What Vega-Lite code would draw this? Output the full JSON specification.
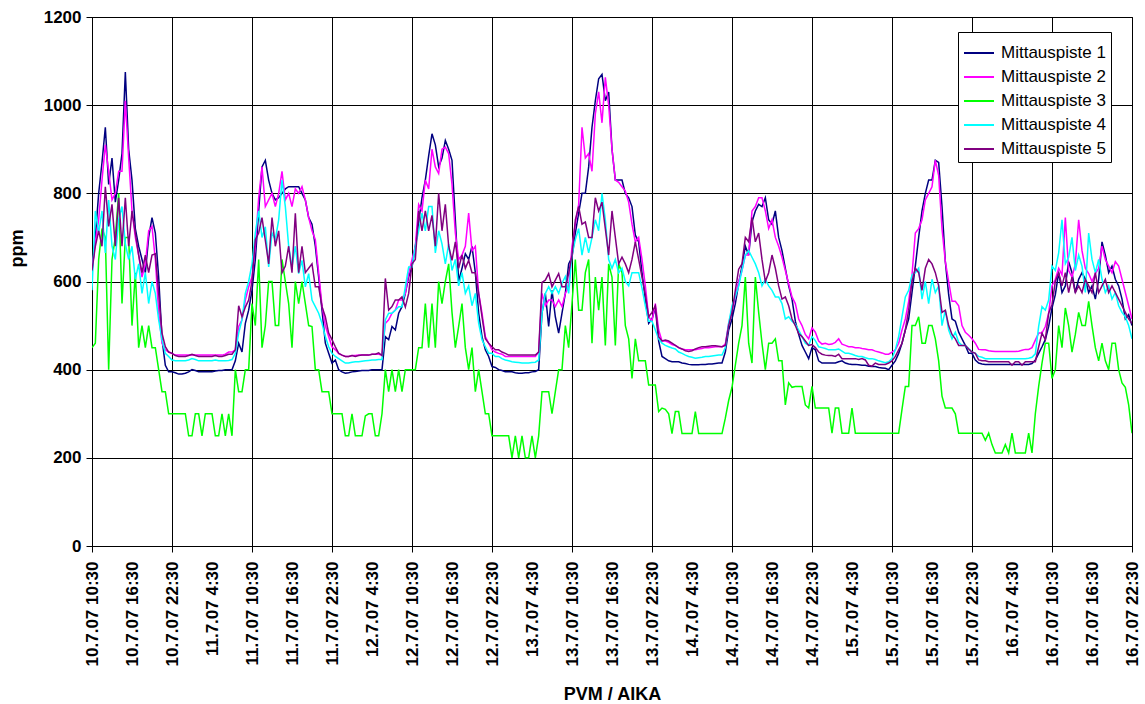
{
  "$schema": "https://vega.github.io/schema/vega-lite/v6.json",
  "width": 1040,
  "height": 529,
  "autosize": {"type": "none"},
  "padding": {"left": 92, "top": 17, "right": 13, "bottom": 158},
  "background": "white",
  "config": {"font": "Liberation Sans", "view": {"stroke": "#000", "strokeWidth": 1}},
  "data": {"values": [
    {"h":0,"p1":620,"p2":630,"p3":450,"p4":580,"p5":625},
    {"h":0.5,"p1":700,"p2":690,"p3":460,"p4":760,"p5":680},
    {"h":1,"p1":800,"p2":740,"p3":650,"p4":710,"p5":715},
    {"h":1.5,"p1":870,"p2":830,"p3":720,"p4":760,"p5":680},
    {"h":2,"p1":950,"p2":910,"p3":700,"p4":665,"p5":815},
    {"h":2.5,"p1":820,"p2":850,"p3":400,"p4":785,"p5":725},
    {"h":3,"p1":880,"p2":785,"p3":650,"p4":680,"p5":775},
    {"h":3.5,"p1":780,"p2":800,"p3":700,"p4":650,"p5":680},
    {"h":4,"p1":830,"p2":850,"p3":800,"p4":740,"p5":790},
    {"h":4.5,"p1":890,"p2":850,"p3":550,"p4":770,"p5":680},
    {"h":5,"p1":1075,"p2":1010,"p3":700,"p4":685,"p5":790},
    {"h":5.5,"p1":900,"p2":880,"p3":700,"p4":650,"p5":680},
    {"h":6,"p1":830,"p2":760,"p3":500,"p4":680,"p5":760},
    {"h":6.5,"p1":720,"p2":700,"p3":620,"p4":605,"p5":710},
    {"h":7,"p1":680,"p2":660,"p3":450,"p4":640,"p5":660},
    {"h":7.5,"p1":650,"p2":610,"p3":500,"p4":573,"p5":620},
    {"h":8,"p1":620,"p2":640,"p3":450,"p4":620,"p5":660},
    {"h":8.5,"p1":700,"p2":715,"p3":500,"p4":550,"p5":620},
    {"h":9,"p1":745,"p2":725,"p3":450,"p4":600,"p5":660},
    {"h":9.5,"p1":710,"p2":650,"p3":450,"p4":573,"p5":663},
    {"h":10,"p1":610,"p2":530,"p3":400,"p4":513,"p5":573},
    {"h":10.5,"p1":470,"p2":460,"p3":350,"p4":468,"p5":483},
    {"h":11,"p1":410,"p2":445,"p3":350,"p4":437,"p5":452},
    {"h":11.5,"p1":395,"p2":440,"p3":300,"p4":430,"p5":440},
    {"h":12,"p1":395,"p2":437,"p3":300,"p4":422,"p5":437},
    {"h":12.5,"p1":393,"p2":433,"p3":300,"p4":420,"p5":432},
    {"h":13,"p1":390,"p2":433,"p3":300,"p4":420,"p5":430},
    {"h":13.5,"p1":390,"p2":433,"p3":300,"p4":420,"p5":430},
    {"h":14,"p1":392,"p2":433,"p3":300,"p4":420,"p5":430},
    {"h":14.5,"p1":395,"p2":433,"p3":250,"p4":422,"p5":432},
    {"h":15,"p1":400,"p2":433,"p3":250,"p4":425,"p5":435},
    {"h":15.5,"p1":398,"p2":433,"p3":300,"p4":423,"p5":432},
    {"h":16,"p1":395,"p2":433,"p3":300,"p4":420,"p5":430},
    {"h":16.5,"p1":395,"p2":433,"p3":250,"p4":420,"p5":430},
    {"h":17,"p1":395,"p2":433,"p3":300,"p4":420,"p5":430},
    {"h":17.5,"p1":395,"p2":433,"p3":300,"p4":420,"p5":430},
    {"h":18,"p1":395,"p2":433,"p3":300,"p4":420,"p5":430},
    {"h":18.5,"p1":397,"p2":433,"p3":250,"p4":422,"p5":432},
    {"h":19,"p1":398,"p2":433,"p3":250,"p4":420,"p5":430},
    {"h":19.5,"p1":398,"p2":433,"p3":300,"p4":420,"p5":430},
    {"h":20,"p1":400,"p2":435,"p3":250,"p4":420,"p5":432},
    {"h":20.5,"p1":400,"p2":440,"p3":300,"p4":421,"p5":435},
    {"h":21,"p1":400,"p2":440,"p3":250,"p4":423,"p5":435},
    {"h":21.5,"p1":420,"p2":445,"p3":400,"p4":437,"p5":445},
    {"h":22,"p1":460,"p2":498,"p3":350,"p4":483,"p5":545},
    {"h":22.5,"p1":440,"p2":513,"p3":350,"p4":513,"p5":520},
    {"h":23,"p1":505,"p2":558,"p3":400,"p4":573,"p5":542},
    {"h":23.5,"p1":535,"p2":588,"p3":400,"p4":600,"p5":558},
    {"h":24,"p1":580,"p2":610,"p3":550,"p4":640,"p5":600},
    {"h":24.5,"p1":650,"p2":680,"p3":500,"p4":710,"p5":695},
    {"h":25,"p1":760,"p2":790,"p3":650,"p4":760,"p5":710},
    {"h":25.5,"p1":860,"p2":860,"p3":450,"p4":700,"p5":745},
    {"h":26,"p1":875,"p2":770,"p3":500,"p4":724,"p5":693},
    {"h":26.5,"p1":830,"p2":785,"p3":600,"p4":633,"p5":640},
    {"h":27,"p1":800,"p2":800,"p3":600,"p4":710,"p5":745},
    {"h":27.5,"p1":785,"p2":770,"p3":500,"p4":695,"p5":680},
    {"h":28,"p1":790,"p2":800,"p3":500,"p4":740,"p5":715},
    {"h":28.5,"p1":800,"p2":850,"p3":650,"p4":830,"p5":620},
    {"h":29,"p1":810,"p2":785,"p3":600,"p4":770,"p5":635},
    {"h":29.5,"p1":815,"p2":800,"p3":550,"p4":680,"p5":680},
    {"h":30,"p1":815,"p2":770,"p3":450,"p4":633,"p5":620},
    {"h":30.5,"p1":815,"p2":810,"p3":600,"p4":680,"p5":755},
    {"h":31,"p1":815,"p2":800,"p3":550,"p4":618,"p5":620},
    {"h":31.5,"p1":800,"p2":815,"p3":600,"p4":648,"p5":680},
    {"h":32,"p1":785,"p2":785,"p3":550,"p4":588,"p5":620},
    {"h":32.5,"p1":745,"p2":745,"p3":500,"p4":618,"p5":630},
    {"h":33,"p1":730,"p2":715,"p3":498,"p4":558,"p5":640},
    {"h":33.5,"p1":680,"p2":695,"p3":400,"p4":543,"p5":588},
    {"h":34,"p1":610,"p2":620,"p3":400,"p4":528,"p5":588},
    {"h":34.5,"p1":535,"p2":545,"p3":350,"p4":505,"p5":543},
    {"h":35,"p1":460,"p2":500,"p3":350,"p4":475,"p5":520},
    {"h":35.5,"p1":437,"p2":475,"p3":350,"p4":452,"p5":483},
    {"h":36,"p1":415,"p2":452,"p3":300,"p4":437,"p5":468},
    {"h":36.5,"p1":422,"p2":445,"p3":300,"p4":430,"p5":452},
    {"h":37,"p1":400,"p2":437,"p3":300,"p4":425,"p5":437},
    {"h":37.5,"p1":395,"p2":433,"p3":300,"p4":420,"p5":433},
    {"h":38,"p1":392,"p2":430,"p3":250,"p4":415,"p5":430},
    {"h":38.5,"p1":393,"p2":430,"p3":250,"p4":415,"p5":430},
    {"h":39,"p1":395,"p2":432,"p3":300,"p4":417,"p5":432},
    {"h":39.5,"p1":396,"p2":432,"p3":250,"p4":418,"p5":430},
    {"h":40,"p1":397,"p2":433,"p3":250,"p4":418,"p5":432},
    {"h":40.5,"p1":398,"p2":433,"p3":250,"p4":419,"p5":433},
    {"h":41,"p1":398,"p2":433,"p3":295,"p4":420,"p5":433},
    {"h":41.5,"p1":398,"p2":433,"p3":300,"p4":421,"p5":433},
    {"h":42,"p1":400,"p2":435,"p3":300,"p4":422,"p5":435},
    {"h":42.5,"p1":400,"p2":435,"p3":250,"p4":422,"p5":435},
    {"h":43,"p1":400,"p2":435,"p3":250,"p4":423,"p5":438},
    {"h":43.5,"p1":400,"p2":433,"p3":300,"p4":423,"p5":432},
    {"h":44,"p1":475,"p2":505,"p3":400,"p4":513,"p5":607},
    {"h":44.5,"p1":468,"p2":513,"p3":350,"p4":528,"p5":535},
    {"h":45,"p1":498,"p2":528,"p3":400,"p4":528,"p5":543},
    {"h":45.5,"p1":490,"p2":535,"p3":350,"p4":535,"p5":558},
    {"h":46,"p1":528,"p2":558,"p3":400,"p4":543,"p5":558},
    {"h":46.5,"p1":543,"p2":558,"p3":350,"p4":543,"p5":565},
    {"h":47,"p1":573,"p2":573,"p3":400,"p4":588,"p5":542},
    {"h":47.5,"p1":611,"p2":618,"p3":400,"p4":633,"p5":573},
    {"h":48,"p1":633,"p2":650,"p3":400,"p4":633,"p5":640},
    {"h":48.5,"p1":680,"p2":680,"p3":400,"p4":680,"p5":650},
    {"h":49,"p1":735,"p2":775,"p3":450,"p4":715,"p5":760},
    {"h":49.5,"p1":790,"p2":760,"p3":450,"p4":755,"p5":715},
    {"h":50,"p1":830,"p2":830,"p3":550,"p4":715,"p5":760},
    {"h":50.5,"p1":885,"p2":810,"p3":450,"p4":770,"p5":715},
    {"h":51,"p1":935,"p2":900,"p3":550,"p4":770,"p5":750},
    {"h":51.5,"p1":910,"p2":860,"p3":450,"p4":665,"p5":680},
    {"h":52,"p1":860,"p2":845,"p3":600,"p4":715,"p5":800},
    {"h":52.5,"p1":880,"p2":900,"p3":550,"p4":685,"p5":715},
    {"h":53,"p1":920,"p2":905,"p3":600,"p4":640,"p5":775},
    {"h":53.5,"p1":900,"p2":890,"p3":640,"p4":685,"p5":680},
    {"h":54,"p1":875,"p2":820,"p3":530,"p4":625,"p5":648},
    {"h":54.5,"p1":740,"p2":710,"p3":450,"p4":650,"p5":690},
    {"h":55,"p1":600,"p2":650,"p3":498,"p4":590,"p5":630},
    {"h":55.5,"p1":630,"p2":660,"p3":550,"p4":620,"p5":660},
    {"h":56,"p1":663,"p2":680,"p3":450,"p4":573,"p5":630},
    {"h":56.5,"p1":650,"p2":755,"p3":400,"p4":590,"p5":648},
    {"h":57,"p1":680,"p2":670,"p3":450,"p4":545,"p5":620},
    {"h":57.5,"p1":620,"p2":680,"p3":350,"p4":573,"p5":620},
    {"h":58,"p1":528,"p2":573,"p3":400,"p4":505,"p5":573},
    {"h":58.5,"p1":475,"p2":528,"p3":350,"p4":468,"p5":520},
    {"h":59,"p1":445,"p2":475,"p3":300,"p4":452,"p5":470},
    {"h":59.5,"p1":430,"p2":460,"p3":300,"p4":437,"p5":460},
    {"h":60,"p1":407,"p2":445,"p3":250,"p4":437,"p5":452},
    {"h":60.5,"p1":405,"p2":440,"p3":250,"p4":430,"p5":445},
    {"h":61,"p1":400,"p2":437,"p3":250,"p4":430,"p5":445},
    {"h":61.5,"p1":398,"p2":435,"p3":250,"p4":425,"p5":440},
    {"h":62,"p1":395,"p2":430,"p3":250,"p4":422,"p5":437},
    {"h":62.5,"p1":395,"p2":430,"p3":250,"p4":420,"p5":433},
    {"h":63,"p1":395,"p2":430,"p3":200,"p4":418,"p5":433},
    {"h":63.5,"p1":393,"p2":430,"p3":250,"p4":417,"p5":433},
    {"h":64,"p1":392,"p2":430,"p3":200,"p4":416,"p5":433},
    {"h":64.5,"p1":392,"p2":430,"p3":250,"p4":415,"p5":433},
    {"h":65,"p1":393,"p2":430,"p3":200,"p4":415,"p5":433},
    {"h":65.5,"p1":393,"p2":430,"p3":200,"p4":415,"p5":433},
    {"h":66,"p1":395,"p2":430,"p3":250,"p4":416,"p5":433},
    {"h":66.5,"p1":396,"p2":430,"p3":200,"p4":417,"p5":433},
    {"h":67,"p1":400,"p2":440,"p3":250,"p4":422,"p5":440},
    {"h":67.5,"p1":528,"p2":573,"p3":350,"p4":528,"p5":598},
    {"h":68,"p1":573,"p2":545,"p3":350,"p4":573,"p5":603},
    {"h":68.5,"p1":498,"p2":558,"p3":350,"p4":588,"p5":618},
    {"h":69,"p1":580,"p2":558,"p3":300,"p4":573,"p5":588},
    {"h":69.5,"p1":520,"p2":543,"p3":350,"p4":588,"p5":603},
    {"h":70,"p1":483,"p2":558,"p3":400,"p4":573,"p5":618},
    {"h":70.5,"p1":528,"p2":543,"p3":400,"p4":596,"p5":588},
    {"h":71,"p1":573,"p2":573,"p3":500,"p4":611,"p5":588},
    {"h":71.5,"p1":640,"p2":588,"p3":450,"p4":573,"p5":618},
    {"h":72,"p1":655,"p2":680,"p3":550,"p4":660,"p5":660},
    {"h":72.5,"p1":710,"p2":730,"p3":650,"p4":695,"p5":740},
    {"h":73,"p1":755,"p2":775,"p3":535,"p4":720,"p5":770},
    {"h":73.5,"p1":800,"p2":950,"p3":535,"p4":660,"p5":730},
    {"h":74,"p1":800,"p2":880,"p3":620,"p4":700,"p5":735},
    {"h":74.5,"p1":860,"p2":890,"p3":650,"p4":665,"p5":700},
    {"h":75,"p1":950,"p2":850,"p3":460,"p4":700,"p5":700},
    {"h":75.5,"p1":1010,"p2":980,"p3":610,"p4":740,"p5":790},
    {"h":76,"p1":1060,"p2":1030,"p3":535,"p4":715,"p5":760},
    {"h":76.5,"p1":1070,"p2":960,"p3":610,"p4":800,"p5":780},
    {"h":77,"p1":1010,"p2":1063,"p3":455,"p4":740,"p5":720},
    {"h":77.5,"p1":1030,"p2":1000,"p3":640,"p4":650,"p5":660},
    {"h":78,"p1":900,"p2":900,"p3":610,"p4":630,"p5":760},
    {"h":78.5,"p1":830,"p2":830,"p3":455,"p4":650,"p5":700},
    {"h":79,"p1":830,"p2":825,"p3":640,"p4":620,"p5":640},
    {"h":79.5,"p1":830,"p2":815,"p3":620,"p4":630,"p5":655},
    {"h":80,"p1":800,"p2":805,"p3":500,"p4":600,"p5":640},
    {"h":80.5,"p1":790,"p2":780,"p3":470,"p4":590,"p5":620},
    {"h":81,"p1":770,"p2":730,"p3":380,"p4":620,"p5":650},
    {"h":81.5,"p1":705,"p2":690,"p3":470,"p4":620,"p5":690},
    {"h":82,"p1":690,"p2":700,"p3":420,"p4":620,"p5":650},
    {"h":82.5,"p1":620,"p2":650,"p3":420,"p4":585,"p5":610},
    {"h":83,"p1":560,"p2":590,"p3":420,"p4":545,"p5":570},
    {"h":83.5,"p1":505,"p2":520,"p3":365,"p4":510,"p5":520},
    {"h":84,"p1":515,"p2":510,"p3":365,"p4":510,"p5":530},
    {"h":84.5,"p1":540,"p2":550,"p3":365,"p4":490,"p5":545},
    {"h":85,"p1":465,"p2":490,"p3":305,"p4":470,"p5":475},
    {"h":85.5,"p1":430,"p2":465,"p3":313,"p4":460,"p5":465},
    {"h":86,"p1":425,"p2":465,"p3":310,"p4":455,"p5":467},
    {"h":86.5,"p1":420,"p2":462,"p3":300,"p4":452,"p5":465},
    {"h":87,"p1":418,"p2":457,"p3":255,"p4":449,"p5":460},
    {"h":87.5,"p1":418,"p2":455,"p3":305,"p4":447,"p5":455},
    {"h":88,"p1":418,"p2":450,"p3":305,"p4":440,"p5":450},
    {"h":88.5,"p1":415,"p2":447,"p3":255,"p4":437,"p5":447},
    {"h":89,"p1":414,"p2":445,"p3":255,"p4":433,"p5":443},
    {"h":89.5,"p1":412,"p2":445,"p3":255,"p4":430,"p5":441},
    {"h":90,"p1":411,"p2":445,"p3":255,"p4":428,"p5":443},
    {"h":90.5,"p1":411,"p2":445,"p3":305,"p4":426,"p5":447},
    {"h":91,"p1":411,"p2":447,"p3":255,"p4":427,"p5":450},
    {"h":91.5,"p1":412,"p2":448,"p3":255,"p4":428,"p5":452},
    {"h":92,"p1":412,"p2":450,"p3":255,"p4":430,"p5":452},
    {"h":92.5,"p1":413,"p2":450,"p3":255,"p4":430,"p5":453},
    {"h":93,"p1":413,"p2":451,"p3":255,"p4":431,"p5":454},
    {"h":93.5,"p1":414,"p2":452,"p3":255,"p4":432,"p5":454},
    {"h":94,"p1":415,"p2":452,"p3":255,"p4":433,"p5":453},
    {"h":94.5,"p1":415,"p2":452,"p3":255,"p4":433,"p5":452},
    {"h":95,"p1":440,"p2":458,"p3":290,"p4":450,"p5":455},
    {"h":95.5,"p1":490,"p2":505,"p3":330,"p4":505,"p5":500},
    {"h":96,"p1":515,"p2":535,"p3":360,"p4":545,"p5":530},
    {"h":96.5,"p1":550,"p2":565,"p3":410,"p4":566,"p5":580},
    {"h":97,"p1":595,"p2":600,"p3":460,"p4":589,"p5":628},
    {"h":97.5,"p1":635,"p2":625,"p3":500,"p4":626,"p5":640},
    {"h":98,"p1":680,"p2":660,"p3":610,"p4":660,"p5":700},
    {"h":98.5,"p1":660,"p2":660,"p3":460,"p4":670,"p5":690},
    {"h":99,"p1":735,"p2":760,"p3":415,"p4":655,"p5":745},
    {"h":99.5,"p1":760,"p2":770,"p3":610,"p4":640,"p5":690},
    {"h":100,"p1":775,"p2":790,"p3":530,"p4":620,"p5":710},
    {"h":100.5,"p1":770,"p2":790,"p3":460,"p4":590,"p5":650},
    {"h":101,"p1":790,"p2":760,"p3":400,"p4":605,"p5":600},
    {"h":101.5,"p1":740,"p2":720,"p3":460,"p4":590,"p5":620},
    {"h":102,"p1":730,"p2":740,"p3":460,"p4":580,"p5":660},
    {"h":102.5,"p1":760,"p2":700,"p3":470,"p4":565,"p5":630},
    {"h":103,"p1":700,"p2":680,"p3":420,"p4":565,"p5":590},
    {"h":103.5,"p1":670,"p2":655,"p3":420,"p4":550,"p5":560},
    {"h":104,"p1":630,"p2":625,"p3":320,"p4":515,"p5":565},
    {"h":104.5,"p1":590,"p2":595,"p3":370,"p4":520,"p5":545},
    {"h":105,"p1":560,"p2":565,"p3":360,"p4":510,"p5":515},
    {"h":105.5,"p1":510,"p2":550,"p3":362,"p4":503,"p5":500},
    {"h":106,"p1":480,"p2":515,"p3":362,"p4":490,"p5":482},
    {"h":106.5,"p1":455,"p2":500,"p3":362,"p4":475,"p5":475},
    {"h":107,"p1":440,"p2":480,"p3":320,"p4":460,"p5":465},
    {"h":107.5,"p1":425,"p2":470,"p3":313,"p4":455,"p5":455},
    {"h":108,"p1":450,"p2":495,"p3":362,"p4":475,"p5":457},
    {"h":108.5,"p1":445,"p2":485,"p3":313,"p4":466,"p5":450},
    {"h":109,"p1":420,"p2":465,"p3":313,"p4":452,"p5":440},
    {"h":109.5,"p1":415,"p2":458,"p3":313,"p4":450,"p5":435},
    {"h":110,"p1":415,"p2":460,"p3":313,"p4":448,"p5":433},
    {"h":110.5,"p1":415,"p2":457,"p3":313,"p4":445,"p5":432},
    {"h":111,"p1":415,"p2":458,"p3":256,"p4":445,"p5":432},
    {"h":111.5,"p1":415,"p2":462,"p3":313,"p4":445,"p5":430},
    {"h":112,"p1":418,"p2":470,"p3":313,"p4":447,"p5":435},
    {"h":112.5,"p1":420,"p2":458,"p3":256,"p4":442,"p5":425},
    {"h":113,"p1":415,"p2":455,"p3":256,"p4":437,"p5":425},
    {"h":113.5,"p1":413,"p2":452,"p3":256,"p4":437,"p5":425},
    {"h":114,"p1":412,"p2":452,"p3":313,"p4":435,"p5":425},
    {"h":114.5,"p1":412,"p2":450,"p3":256,"p4":432,"p5":425},
    {"h":115,"p1":411,"p2":450,"p3":256,"p4":430,"p5":423},
    {"h":115.5,"p1":410,"p2":448,"p3":256,"p4":430,"p5":425},
    {"h":116,"p1":410,"p2":447,"p3":256,"p4":427,"p5":422},
    {"h":116.5,"p1":408,"p2":445,"p3":256,"p4":425,"p5":410},
    {"h":117,"p1":407,"p2":445,"p3":256,"p4":425,"p5":408},
    {"h":117.5,"p1":407,"p2":442,"p3":256,"p4":423,"p5":415},
    {"h":118,"p1":405,"p2":440,"p3":256,"p4":420,"p5":412},
    {"h":118.5,"p1":404,"p2":438,"p3":256,"p4":418,"p5":412},
    {"h":119,"p1":403,"p2":435,"p3":256,"p4":416,"p5":412},
    {"h":119.5,"p1":400,"p2":435,"p3":256,"p4":418,"p5":415},
    {"h":120,"p1":410,"p2":440,"p3":256,"p4":425,"p5":420},
    {"h":120.5,"p1":420,"p2":445,"p3":256,"p4":445,"p5":430},
    {"h":121,"p1":437,"p2":460,"p3":256,"p4":475,"p5":445},
    {"h":121.5,"p1":460,"p2":490,"p3":310,"p4":520,"p5":460},
    {"h":122,"p1":490,"p2":515,"p3":362,"p4":565,"p5":490},
    {"h":122.5,"p1":515,"p2":555,"p3":362,"p4":580,"p5":535},
    {"h":123,"p1":575,"p2":615,"p3":500,"p4":615,"p5":600},
    {"h":123.5,"p1":635,"p2":710,"p3":500,"p4":620,"p5":630},
    {"h":124,"p1":700,"p2":720,"p3":520,"p4":630,"p5":620},
    {"h":124.5,"p1":760,"p2":740,"p3":460,"p4":560,"p5":580},
    {"h":125,"p1":800,"p2":785,"p3":460,"p4":600,"p5":630},
    {"h":125.5,"p1":830,"p2":800,"p3":500,"p4":550,"p5":650},
    {"h":126,"p1":830,"p2":815,"p3":500,"p4":605,"p5":640},
    {"h":126.5,"p1":875,"p2":875,"p3":470,"p4":575,"p5":620},
    {"h":127,"p1":870,"p2":840,"p3":420,"p4":590,"p5":590},
    {"h":127.5,"p1":770,"p2":720,"p3":340,"p4":500,"p5":530},
    {"h":128,"p1":645,"p2":645,"p3":313,"p4":535,"p5":535},
    {"h":128.5,"p1":570,"p2":600,"p3":313,"p4":490,"p5":500},
    {"h":129,"p1":515,"p2":555,"p3":313,"p4":470,"p5":480},
    {"h":129.5,"p1":510,"p2":555,"p3":300,"p4":485,"p5":470},
    {"h":130,"p1":485,"p2":545,"p3":256,"p4":462,"p5":455},
    {"h":130.5,"p1":470,"p2":500,"p3":256,"p4":455,"p5":455},
    {"h":131,"p1":455,"p2":485,"p3":256,"p4":455,"p5":455},
    {"h":131.5,"p1":437,"p2":478,"p3":256,"p4":448,"p5":447},
    {"h":132,"p1":437,"p2":470,"p3":256,"p4":440,"p5":440},
    {"h":132.5,"p1":422,"p2":460,"p3":256,"p4":437,"p5":437},
    {"h":133,"p1":415,"p2":446,"p3":256,"p4":430,"p5":422},
    {"h":133.5,"p1":413,"p2":445,"p3":256,"p4":428,"p5":420},
    {"h":134,"p1":412,"p2":445,"p3":240,"p4":425,"p5":420},
    {"h":134.5,"p1":412,"p2":443,"p3":256,"p4":425,"p5":418},
    {"h":135,"p1":412,"p2":442,"p3":230,"p4":425,"p5":418},
    {"h":135.5,"p1":412,"p2":441,"p3":211,"p4":425,"p5":418},
    {"h":136,"p1":412,"p2":441,"p3":211,"p4":425,"p5":418},
    {"h":136.5,"p1":412,"p2":441,"p3":211,"p4":425,"p5":418},
    {"h":137,"p1":412,"p2":441,"p3":230,"p4":425,"p5":418},
    {"h":137.5,"p1":412,"p2":441,"p3":211,"p4":425,"p5":418},
    {"h":138,"p1":412,"p2":441,"p3":256,"p4":425,"p5":410},
    {"h":138.5,"p1":412,"p2":441,"p3":211,"p4":425,"p5":418},
    {"h":139,"p1":412,"p2":442,"p3":211,"p4":425,"p5":418},
    {"h":139.5,"p1":412,"p2":444,"p3":211,"p4":425,"p5":410},
    {"h":140,"p1":412,"p2":446,"p3":211,"p4":425,"p5":418},
    {"h":140.5,"p1":412,"p2":446,"p3":256,"p4":426,"p5":418},
    {"h":141,"p1":414,"p2":450,"p3":211,"p4":428,"p5":418},
    {"h":141.5,"p1":422,"p2":467,"p3":300,"p4":436,"p5":418},
    {"h":142,"p1":437,"p2":483,"p3":362,"p4":498,"p5":452},
    {"h":142.5,"p1":452,"p2":483,"p3":415,"p4":543,"p5":483},
    {"h":143,"p1":468,"p2":498,"p3":460,"p4":535,"p5":468},
    {"h":143.5,"p1":498,"p2":528,"p3":460,"p4":558,"p5":528},
    {"h":144,"p1":540,"p2":590,"p3":380,"p4":635,"p5":548},
    {"h":144.5,"p1":570,"p2":605,"p3":400,"p4":625,"p5":600},
    {"h":145,"p1":620,"p2":630,"p3":500,"p4":665,"p5":620},
    {"h":145.5,"p1":575,"p2":615,"p3":450,"p4":740,"p5":590},
    {"h":146,"p1":590,"p2":745,"p3":540,"p4":640,"p5":620},
    {"h":146.5,"p1":645,"p2":625,"p3":500,"p4":655,"p5":575},
    {"h":147,"p1":620,"p2":610,"p3":440,"p4":700,"p5":610},
    {"h":147.5,"p1":575,"p2":640,"p3":480,"p4":625,"p5":575},
    {"h":148,"p1":605,"p2":740,"p3":530,"p4":660,"p5":590},
    {"h":148.5,"p1":620,"p2":670,"p3":500,"p4":635,"p5":575},
    {"h":149,"p1":605,"p2":630,"p3":500,"p4":575,"p5":605},
    {"h":149.5,"p1":575,"p2":618,"p3":555,"p4":710,"p5":590},
    {"h":150,"p1":590,"p2":600,"p3":500,"p4":650,"p5":575},
    {"h":150.5,"p1":560,"p2":618,"p3":450,"p4":620,"p5":620},
    {"h":151,"p1":605,"p2":630,"p3":420,"p4":650,"p5":575},
    {"h":151.5,"p1":690,"p2":680,"p3":460,"p4":605,"p5":590},
    {"h":152,"p1":660,"p2":650,"p3":420,"p4":575,"p5":605},
    {"h":152.5,"p1":620,"p2":635,"p3":400,"p4":590,"p5":575},
    {"h":153,"p1":635,"p2":620,"p3":460,"p4":560,"p5":590},
    {"h":153.5,"p1":605,"p2":645,"p3":460,"p4":575,"p5":575},
    {"h":154,"p1":590,"p2":635,"p3":400,"p4":545,"p5":560},
    {"h":154.5,"p1":560,"p2":605,"p3":370,"p4":530,"p5":545},
    {"h":155,"p1":515,"p2":575,"p3":360,"p4":520,"p5":530},
    {"h":155.5,"p1":525,"p2":545,"p3":320,"p4":500,"p5":515},
    {"h":156,"p1":500,"p2":515,"p3":256,"p4":470,"p5":505}
  ]},
  "transform": [{"fold": ["p1", "p2", "p3", "p4", "p5"], "as": ["serie", "ppm"]}],
  "mark": {"type": "line", "strokeWidth": 1.5, "clip": true},
  "encoding": {
    "x": {
      "field": "h", "type": "quantitative",
      "scale": {"domain": [0, 156], "nice": false, "zero": false},
      "axis": {
        "values": [0,6,12,18,24,30,36,42,48,54,60,66,72,78,84,90,96,102,108,114,120,126,132,138,144,150,156],
        "labelExpr": "(10 + floor((datum.value + 10.5) / 24)) + '.7.07 ' + floor((datum.value + 10.5) % 24) + ':30'",
        "labelAngle": 270,
        "labelFlush": false,
        "labelOverlap": false,
        "labelFontSize": 17,
        "labelFontWeight": "bold",
        "labelColor": "#000",
        "labelPadding": 9,
        "tickSize": 6,
        "tickColor": "#000",
        "tickOpacity": {"condition": {"test": "datum.value % 12 === 0", "value": 1}, "value": 0},
        "grid": true,
        "gridColor": "#000",
        "gridOpacity": {"condition": {"test": "datum.value % 12 === 0", "value": 1}, "value": 0},
        "domainColor": "#000",
        "title": "PVM / AIKA",
        "titleFontSize": 18,
        "titleFontWeight": "bold",
        "titleColor": "#000",
        "titleX": 520,
        "titleY": 153,
        "titleAlign": "center",
        "titleBaseline": "alphabetic"
      }
    },
    "y": {
      "field": "ppm", "type": "quantitative",
      "scale": {"domain": [0, 1200], "nice": false},
      "axis": {
        "values": [0, 200, 400, 600, 800, 1000, 1200],
        "format": "d",
        "grid": true,
        "gridColor": "#000",
        "tickSize": 6,
        "tickColor": "#000",
        "domainColor": "#000",
        "labelFontSize": 17,
        "labelFontWeight": "bold",
        "labelColor": "#000",
        "labelPadding": 5,
        "title": "ppm",
        "titleFontSize": 18,
        "titleFontWeight": "bold",
        "titleColor": "#000",
        "titleAngle": 270,
        "titleX": -70,
        "titleY": 231,
        "titleAlign": "center",
        "titleBaseline": "alphabetic"
      }
    },
    "color": {
      "field": "serie", "type": "nominal",
      "scale": {"domain": ["p1", "p2", "p3", "p4", "p5"], "range": ["#000080", "#FF00FF", "#00FF00", "#00FFFF", "#800080"]},
      "legend": {
        "title": null,
        "orient": "none",
        "legendX": 866,
        "legendY": 15,
        "labelExpr": "'Mittauspiste ' + substring(datum.label, 1)",
        "symbolType": "stroke",
        "symbolSize": 900,
        "symbolStrokeWidth": 2,
        "labelFontSize": 17,
        "labelColor": "#000",
        "labelOffset": 6,
        "strokeColor": "#000",
        "fillColor": "#fff",
        "padding": 5,
        "rowPadding": 0,
        "cornerRadius": 0
      }
    }
  }
}
